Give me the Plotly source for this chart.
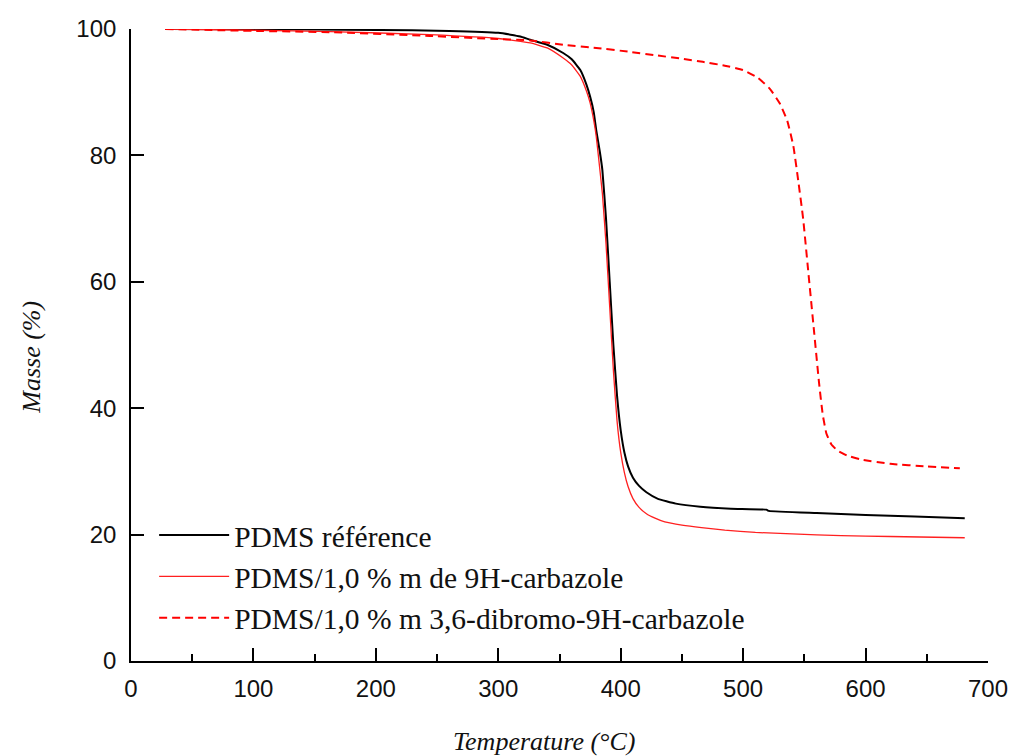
import plotly.graph_objects as go

# PDMS référence
temp_ref = [28, 100, 200, 260, 300, 310, 318, 326, 340, 353, 360, 367, 372, 375, 378, 380, 383, 385, 388, 391,
            394, 397, 400, 403, 406, 410, 415, 421, 430, 445, 465, 490, 519, 521, 560, 600, 640, 681]
mass_ref = [100, 99.95, 99.85, 99.7, 99.4, 99.1, 98.8, 98.3, 97.5, 96.2, 95.2, 93.5, 91.2, 89.3, 86.8, 84, 80.5, 77.7,
            70, 60, 50, 42, 36.5, 33, 30.8, 29.0, 27.7, 26.7, 25.7, 24.9, 24.4, 24.1, 23.95, 23.75, 23.4, 23.1, 22.85,
            22.6]

# PDMS/1,0 % m de 9H-carbazole
temp_carb = [28, 100, 163, 244, 300, 326, 340, 353, 360, 367, 372, 375, 378, 380, 382, 385, 388, 391,
             394, 397, 400, 403, 406, 410, 415, 421, 428, 436, 450, 466, 485, 510, 540, 580, 620, 681]
mass_carb = [100, 99.8, 99.6, 99.1, 98.5, 97.8, 97.0, 95.4, 94.3, 92.5, 90.2, 88.3, 85.5, 83, 79.5, 74, 66, 56,
             46, 38, 33, 29.8, 27.6, 25.7, 24.3, 23.3, 22.6, 22.0, 21.5, 21.1, 20.7, 20.35, 20.1, 19.85, 19.7, 19.5]

# PDMS/1,0 % m 3,6-dibromo-9H-carbazole
temp_dibr = [28, 100, 163, 244, 300, 326, 353, 380, 407, 430, 450, 467, 485, 500, 512, 522, 530, 536, 541, 545,
             549, 553, 558, 562, 565, 568, 572, 577, 585, 596, 620, 650, 677]
mass_dibr = [100, 99.7, 99.5, 98.9, 98.4, 98.2, 97.5, 97.0, 96.4, 95.8, 95.3, 94.8, 94.2, 93.5, 92.3, 90.5, 88.2,
             85.5, 81.5, 76, 70, 62, 52, 44, 39, 36, 34.3, 33.3, 32.5, 31.9, 31.2, 30.8, 30.5]

names = ["PDMS référence",
         "PDMS/1,0 % m de 9H-carbazole",
         "PDMS/1,0 % m 3,6-dibromo-9H-carbazole"]

x_ticks = [0, 100, 200, 300, 400, 500, 600, 700]
y_ticks = [0, 20, 40, 60, 80, 100]

fig = go.Figure()
fig.add_trace(go.Scatter(x=temp_ref, y=mass_ref, mode="lines", name=names[0],
                         line=dict(color="#000000", width=2, shape="spline", smoothing=0.4)))
fig.add_trace(go.Scatter(x=temp_carb, y=mass_carb, mode="lines", name=names[1],
                         line=dict(color="#ff2020", width=1.3, shape="spline", smoothing=0.4)))
fig.add_trace(go.Scatter(x=temp_dibr, y=mass_dibr, mode="lines", name=names[2],
                         line=dict(color="#ff0000", width=2, dash="8px,5px", shape="spline", smoothing=0.4)))

axis_common = dict(showline=True, linecolor="#000000", linewidth=1.6, mirror=False,
                   ticks="inside", tickcolor="#000000", tickwidth=1.5, ticklen=13,
                   showgrid=False, zeroline=False, automargin=False,
                   tickfont=dict(family="Liberation Sans, Arial", size=24, color="#111111"))

title_font = dict(family="Liberation Serif, Times New Roman", size=26, color="#111111", style="italic")

fig.update_layout(
    width=1011, height=756,
    paper_bgcolor="white", plot_bgcolor="white",
    margin=dict(l=131, r=23, t=29, b=95),
    showlegend=True,
    legend=dict(x=0.027, y=0.24, xanchor="left", yanchor="top",
                bgcolor="rgba(0,0,0,0)", itemwidth=70,
                font=dict(family="Liberation Serif, Times New Roman", size=29.5, color="#111111")),
    xaxis=dict(range=[0, 700], tickvals=x_ticks, ticktext=[str(v) for v in x_ticks],
               minor=dict(dtick=50, ticks="inside", ticklen=7, tickwidth=1.5, tickcolor="#000000"),
               ticklabelstandoff=5,
               **axis_common),
    yaxis=dict(range=[0, 100], tickvals=y_ticks, ticktext=[str(v) for v in y_ticks],
               ticklabelstandoff=8,
               **axis_common),
    annotations=[
        dict(text="Temperature (°C)", xref="paper", yref="paper", x=0.483, y=-0.128,
             xanchor="center", yanchor="middle", showarrow=False, font=title_font),
        dict(text="Masse (%)", xref="paper", yref="paper", x=-0.117, y=0.481, textangle=-90,
             xanchor="center", yanchor="middle", showarrow=False, font=title_font),
    ],
)

# remove the browser's default 8 px body margin so the figure fills the window exactly
fig.write_html("out.html", config={"displayModeBar": False},
               post_script="document.body.style.margin='0';")
